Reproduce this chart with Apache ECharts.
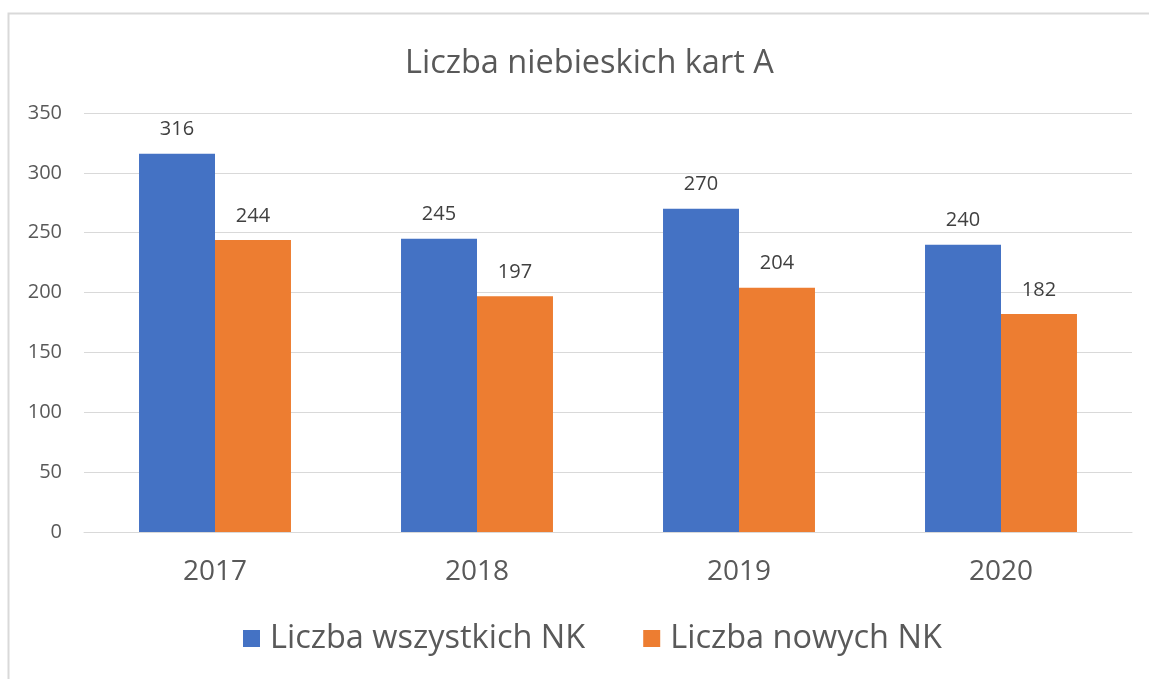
<!DOCTYPE html>
<html>
<head>
<meta charset="utf-8">
<script src="https://cdn.jsdelivr.net/npm/echarts@6/dist/echarts.min.js"></script>
<style>
  html, body { margin: 0; padding: 0; background: #fff; }
  #chart { width: 1149px; height: 679px; }
</style>
</head>
<body>
<div id="chart"></div>
<script>
const years = ['2017', '2018', '2019', '2020']
const allCards = [316, 245, 270, 240]
const newCards = [244, 197, 204, 182]
const seriesNames = ['Liczba wszystkich NK', 'Liczba nowych NK']

const font = 'Open Sans'
const chart = echarts.init(document.getElementById('chart'))

const labelStyle = {
  show: true,
  position: 'top',
  distance: 14,
  color: '#404040',
  fontFamily: font,
  fontSize: 20
}

chart.setOption({
  animation: false,
  textStyle: { fontFamily: font },
  graphic: [{
    type: 'rect',
    shape: { x: 8.5, y: 13.5, width: 1200, height: 700 },
    style: { fill: 'none', stroke: '#d9d9d9', lineWidth: 2 },
    silent: true
  }],
  title: {
    text: 'Liczba niebieskich kart A',
    left: 400,
    top: 42,
    textStyle: { color: '#595959', fontSize: 32.5, fontWeight: 'normal', fontFamily: font }
  },
  legend: {
    bottom: 19,
    left: 238,
    icon: 'rect',
    itemWidth: 17,
    itemHeight: 17,
    itemGap: 58,
    textStyle: { color: '#595959', fontSize: 32.5, fontFamily: font, padding: [0, 0, 0, 5] },
    data: seriesNames
  },
  grid: { left: 84, right: 17, top: 113, bottom: 147 },
  xAxis: {
    type: 'category',
    data: years,
    axisLine: { lineStyle: { color: '#d9d9d9', width: 1 } },
    axisTick: { show: false },
    axisLabel: { color: '#595959', fontSize: 28, margin: 26, fontFamily: font }
  },
  yAxis: {
    type: 'value',
    min: 0,
    max: 350,
    interval: 50,
    axisLine: { show: false },
    axisTick: { show: false },
    splitLine: { lineStyle: { color: '#d9d9d9', width: 1 } },
    axisLabel: { color: '#595959', fontSize: 20, margin: 22, fontFamily: font }
  },
  series: [
    {
      name: seriesNames[0],
      type: 'bar',
      data: allCards,
      barGap: '0%',
      barCategoryGap: '42%',
      itemStyle: { color: '#4472c4' },
      label: labelStyle
    },
    {
      name: seriesNames[1],
      type: 'bar',
      data: newCards,
      barGap: '0%',
      barCategoryGap: '42%',
      itemStyle: { color: '#ed7d31' },
      label: labelStyle
    }
  ]
})
</script>
</body>
</html>
